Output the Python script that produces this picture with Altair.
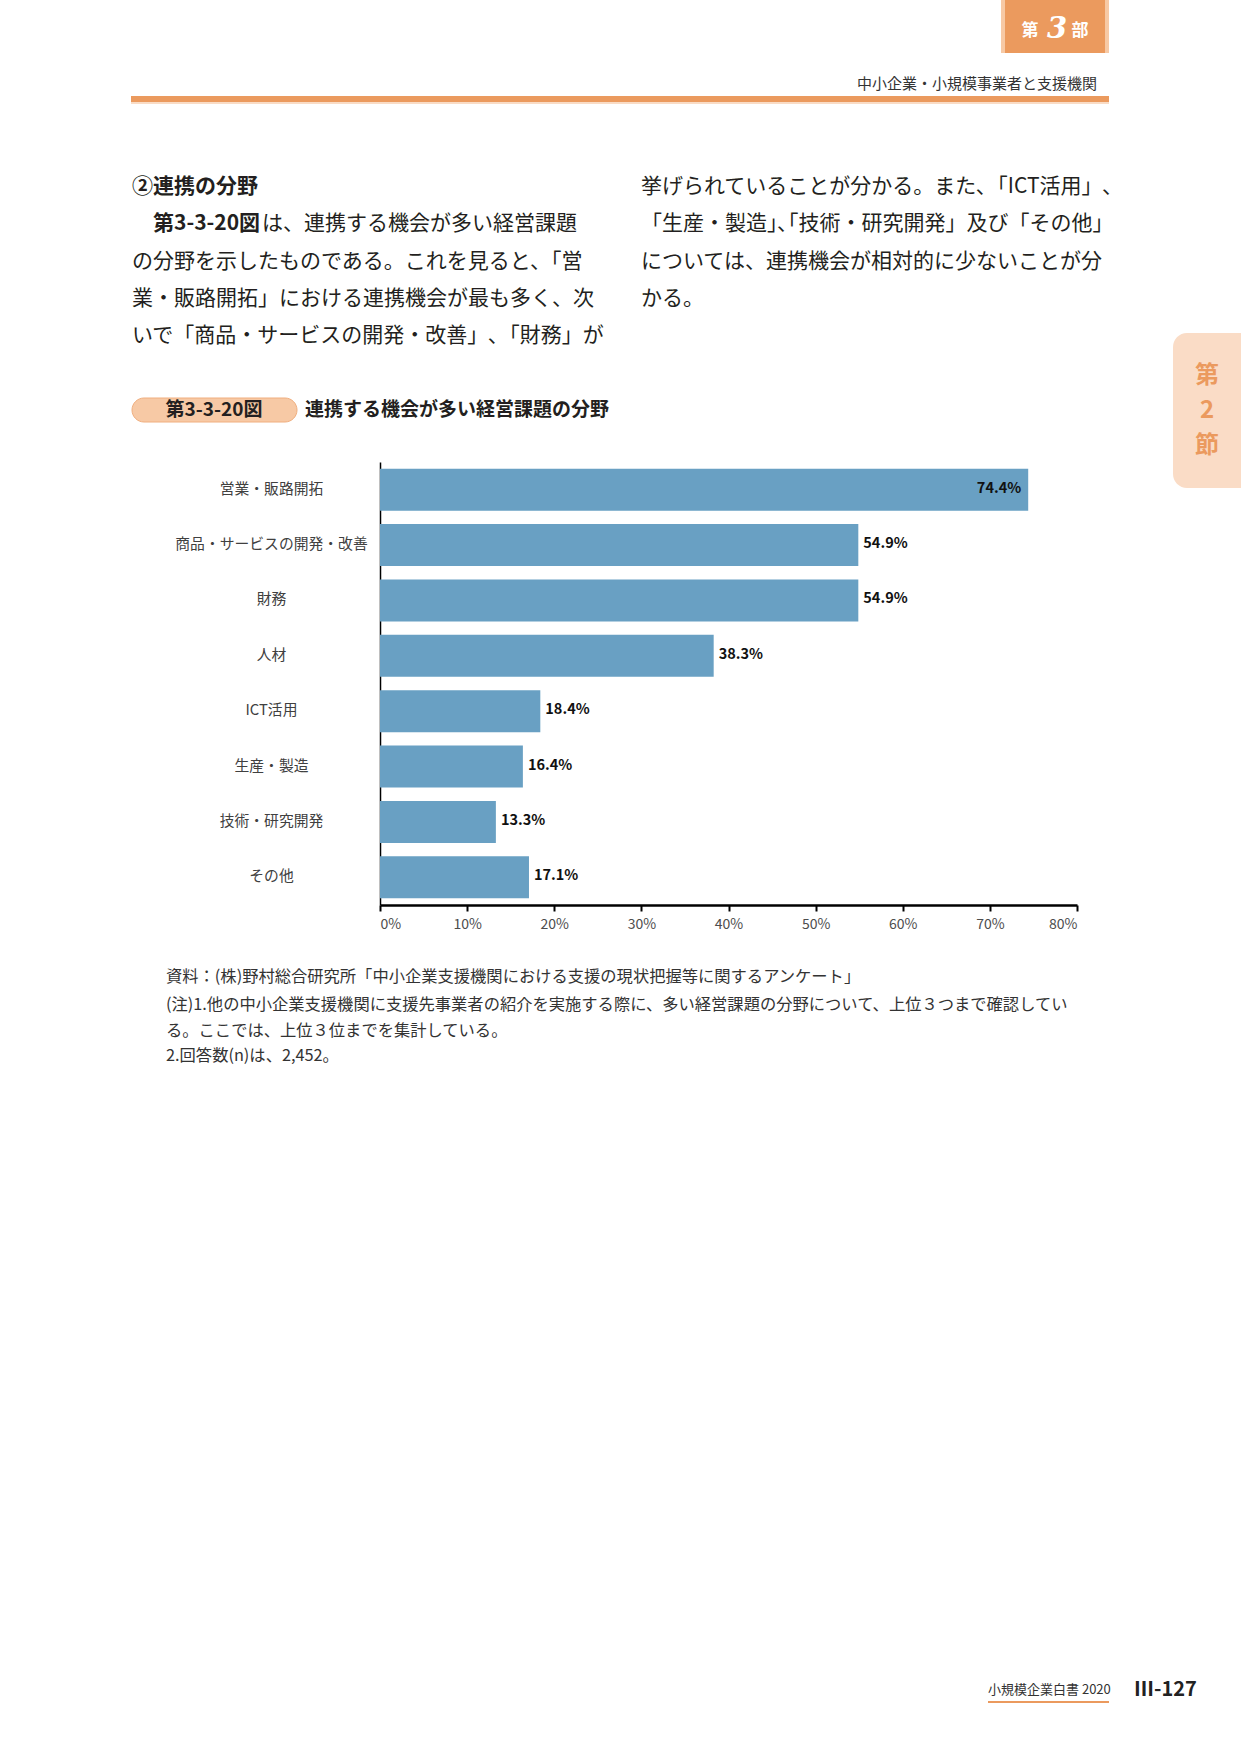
import altair as alt
import pandas as pd

# ---------------- data ----------------
categories = ["営業・販路開拓", "商品・サービスの開発・改善", "財務", "人材",
              "ICT活用", "生産・製造", "技術・研究開発", "その他"]
values = [74.4, 54.9, 54.9, 38.3, 18.4, 16.4, 13.3, 17.1]
x_ticks = [0, 10, 20, 30, 40, 50, 60, 70, 80]

header_tab = ["第", "3", "部"]
header_text = "中小企業・小規模事業者と支援機関"
section_heading = "②連携の分野"
figure_ref = "第3-3-20図"
left_first_rest = "は、連携する機会が多い経営課題"
left_lines = ["の分野を示したものである。これを見ると、「営",
              "業・販路開拓」における連携機会が最も多く、次",
              "いで「商品・サービスの開発・改善」､「財務」が"]
right_lines = ["挙げられていることが分かる。また､「ICT活用」､",
               "「生産・製造｣､｢技術・研究開発」及び「その他」",
               "については、連携機会が相対的に少ないことが分",
               "かる。"]
fig_label = "第3-3-20図"
fig_title = "連携する機会が多い経営課題の分野"
notes = ["資料：(株)野村総合研究所「中小企業支援機関における支援の現状把握等に関するアンケート」",
         "(注)1.他の中小企業支援機関に支援先事業者の紹介を実施する際に、多い経営課題の分野について、上位３つまで確認してい",
         "る。ここでは、上位３位までを集計している。",
         "2.回答数(n)は、2,452。"]
side_tab = ["第", "2", "節"]
footer_book = "小規模企業白書  2020"
footer_page = "Ⅲ-127"

df = pd.DataFrame({"cat": categories, "val": values})

FONT = "Noto Sans CJK JP"
ORANGE = "#EB9A5E"
PEACH = "#F7C9A5"
TEXT = "#231F20"
OX, OY = 380, 462           # plot origin on page
W, H = 697, 443             # plot area
PAGE_W, PAGE_H = 1241, 1754


def txt(s, X, Y, size, bold=False, color=TEXT, align="left", baseline="middle",
        font=FONT, italic=False):
    kw = dict(text=s, fontSize=size, fontWeight="bold" if bold else "normal",
              color=color, align=align, baseline=baseline, font=font)
    if italic:
        kw["fontStyle"] = "italic"
    return alt.Chart(alt.Data(values=[{}])).mark_text(**kw).encode(
        x=alt.value(X - OX), y=alt.value(Y - OY))


def box(X1, Y1, X2, Y2, fill, stroke=None, radius=0):
    kw = dict(color=fill, cornerRadius=radius)
    if stroke:
        kw.update(stroke=stroke, strokeWidth=1)
    return alt.Chart(alt.Data(values=[{}])).mark_rect(**kw).encode(
        x=alt.value(X1 - OX), x2=alt.value(X2 - OX),
        y=alt.value(Y1 - OY), y2=alt.value(Y2 - OY))


# ---------------- chart ----------------
base = alt.Chart(df)

bars = base.mark_bar(color="#69A0C3").encode(
    x=alt.X("val:Q", scale=alt.Scale(domain=[0, 80], nice=False),
            axis=alt.Axis(values=x_ticks, labelExpr="datum.value + '%'", title=None,
                          grid=False, domainColor="black", domainWidth=2.5,
                          tickColor="black", tickWidth=2, tickSize=6,
                          labelFlush=True, labelPadding=6, labelFontSize=14,
                          labelColor="#4d4d4d", labelFont=FONT)),
    y=alt.Y("cat:N", sort=categories,
            scale=alt.Scale(paddingInner=0.24, paddingOuter=0.12),
            axis=alt.Axis(title=None, ticks=False, domainColor="black", domainWidth=1.5,
                          labelAlign="center", labelPadding=109, labelFontSize=14.8,
                          labelColor="#404040", labelFont=FONT, labelLimit=400)),
)

lab = base.transform_calculate(label="format(datum.val, '.1f') + '%'")
labels_out = lab.transform_filter("datum.val < 70").mark_text(
    align="left", baseline="middle", dx=5, dy=-1, fontSize=14.5, fontWeight="bold",
    color="#111111", font=FONT).encode(
    x="val:Q", y=alt.Y("cat:N", sort=categories), text="label:N")
labels_in = lab.transform_filter("datum.val >= 70").mark_text(
    align="right", baseline="middle", dx=-7, dy=-1, fontSize=14.5, fontWeight="bold",
    color="#111111", font=FONT).encode(
    x="val:Q", y=alt.Y("cat:N", sort=categories), text="label:N")

# ---------------- page decorations ----------------
deco = [
    # top tab
    box(1001, 0, 1109, 53, PEACH),
    box(1005, 0, 1105, 53, ORANGE),
    txt(header_tab[0], 1030, 31, 17, bold=True, color="white", align="center"),
    txt(header_tab[1], 1057, 29, 29, bold=True, color="white", align="center",
        font="DejaVu Serif", italic=True),
    txt(header_tab[2], 1080, 31, 17, bold=True, color="white", align="center"),
    # header line
    txt(header_text, 1097, 84, 15, color="#333333", align="right"),
    box(131, 96, 1109, 102, ORANGE),
    box(131, 102, 1109, 104, "#F9DCC6"),
    # body text
    txt(section_heading, 132, 187, 21, bold=True),
    txt(figure_ref, 153, 224, 21, bold=True),
    txt(left_first_rest, 262, 224, 21),
    # side tab
    box(1173, 333, 1262, 488, "#FADCC6", radius=14),
    txt(side_tab[0], 1207, 376, 24, bold=True, color=ORANGE, align="center"),
    txt(side_tab[1], 1207, 411, 24, bold=True, color=ORANGE, align="center"),
    txt(side_tab[2], 1207, 446, 24, bold=True, color=ORANGE, align="center"),
    # figure label
    box(132, 398, 297, 422, PEACH, stroke="#F0AE7E", radius=12),
    txt(fig_label, 214, 410, 19, bold=True, align="center"),
    txt(fig_title, 305, 410, 19, bold=True),
    # footer
    txt(footer_book, 988, 1690, 13, color="#333333"),
    box(988, 1701, 1109, 1703, ORANGE),
    txt(footer_page, 1134, 1690, 20, bold=True, color="#222222"),
]
for i, s in enumerate(left_lines):
    deco.append(txt(s, 132, 262 + i * 37, 21))
for i, s in enumerate(right_lines):
    deco.append(txt(s, 641, 187 + i * 37.3, 21))
note_y = [977, 1005, 1031, 1056]
for s, yy in zip(notes, note_y):
    deco.append(txt(s, 166, yy, 16.3, color="#333333"))

chart = alt.layer(bars, labels_out, labels_in, *deco).properties(
    width=W, height=H,
    autosize=alt.AutoSizeParams(type="none"),
    padding={"left": OX, "top": OY, "right": PAGE_W - OX - W, "bottom": PAGE_H - OY - H},
    background="white",
).configure_view(stroke=None)

chart.save("out.html", embed_options={"renderer": "svg", "actions": False})
